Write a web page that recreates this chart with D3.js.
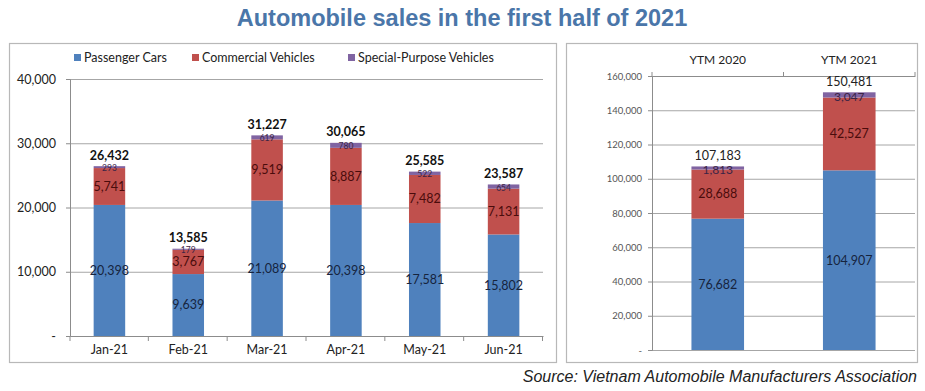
<!DOCTYPE html>
<html><head><meta charset="utf-8">
<script src="https://cdn.jsdelivr.net/npm/d3@7"></script>
<style>
html,body{margin:0;padding:0;background:#fff;}
svg{display:block;}
text{font-family:Lato,"Open Sans",sans-serif;}
</style></head>
<body>
<svg id="c" width="925" height="391"></svg>
<script>
// ---------- data ----------
const months = ["Jan-21","Feb-21","Mar-21","Apr-21","May-21","Jun-21"];
const passenger = [20398, 9639, 21089, 20398, 17581, 15802];
const commercial = [5741, 3767, 9519, 8887, 7482, 7131];
const special = [293, 179, 619, 780, 522, 654];
const totals = [26432, 13585, 31227, 30065, 25585, 23587];
const leftTicks = [0, 10000, 20000, 30000, 40000];

const ytmCats = ["YTM 2020","YTM 2021"];
const ytmPassenger = [76682, 104907];
const ytmCommercial = [28688, 42527];
const ytmSpecial = [1813, 3047];
const ytmTotals = [107183, 150481];
const rightTicks = [0,20000,40000,60000,80000,100000,120000,140000,160000];

const seriesNames = ["Passenger Cars","Commercial Vehicles","Special-Purpose Vehicles"];
const seriesKeys = ["pc","cv","sp"];
const colors = {pc:"#4f81bd", cv:"#c0504d", sp:"#8064a2"};
const labelColors = {pc:"#16243d", cv:"#4a0c0c", sp:"#3b2446"};

const fmt = d3.format(",");
const svg = d3.select("#c");

// title
svg.append("text").attr("x",462).attr("y",26).attr("text-anchor","middle")
  .style("font-family","'Liberation Sans Narrow','Arial Narrow','Liberation Sans',sans-serif")
  .style("font-weight","bold").style("font-size","23.5px").attr("fill","#4a76a9")
  .text("Automobile sales in the first half of 2021");

// panels
svg.append("rect").attr("x",9.5).attr("y",43.5).attr("width",547).attr("height",319)
  .attr("fill","#fff").attr("stroke","#b8b8b8").attr("stroke-width",1.2);
svg.append("rect").attr("x",566.5).attr("y",43.5).attr("width",351).attr("height",319)
  .attr("fill","#fff").attr("stroke","#b8b8b8").attr("stroke-width",1.2);

// ---------- left chart ----------
const L = {x0:70, x1:543, y0:336, y1:79};
const lData = months.map((m,i)=>({cat:m, pc:passenger[i], cv:commercial[i], sp:special[i], total:totals[i]}));
const lx = d3.scaleBand().domain(months).range([L.x0,L.x1]).paddingInner(0.6).paddingOuter(0.3);
const ly = d3.scaleLinear().domain([0,40000]).range([L.y0,L.y1]);
const lg = svg.append("g");

// gridlines
lg.selectAll("line.grid").data(leftTicks.filter(t=>t>0)).join("line")
  .attr("x1",L.x0).attr("x2",L.x1).attr("y1",d=>ly(d)+0.5).attr("y2",d=>ly(d)+0.5)
  .attr("stroke","#a6a6a6").attr("stroke-width",1);

const lStack = d3.stack().keys(seriesKeys)(lData);
lStack.forEach(s=>{
  lg.selectAll(null).data(s).join("rect")
    .attr("x",d=>lx(d.data.cat)).attr("width",lx.bandwidth())
    .attr("y",d=>ly(d[1])).attr("height",d=>ly(d[0])-ly(d[1]))
    .attr("fill",colors[s.key]);
});
// y axis
const lyAxis = d3.axisLeft(ly).tickValues(leftTicks).tickSize(4)
  .tickFormat(d=>d===0?"-":fmt(d));
const lya = lg.append("g").attr("transform",`translate(${L.x0},0)`).call(lyAxis);
lya.select(".domain").attr("stroke","#8c8c8c");
lya.selectAll(".tick line").attr("stroke","#8c8c8c");
lya.selectAll(".tick text").attr("x",-14).attr("fill","#222").style("font-size","12.5px").style("font-family","Lato,sans-serif");
// x axis
const lxAxis = d3.axisBottom(lx).tickSize(0).tickPadding(9);
const lxa = lg.append("g").attr("transform",`translate(0,${L.y0})`).call(lxAxis);
lxa.select(".domain").attr("stroke","#8c8c8c");
lxa.selectAll(".tick text").attr("fill","#222").style("font-size","12.5px").style("font-family","Lato,sans-serif");
// boundary tick marks
const step = lx.step();
lg.selectAll("line.bt").data(d3.range(months.length+1)).join("line")
  .attr("x1",i=>L.x0+i*step-0.5+ (i===0?0.5:0)).attr("x2",i=>L.x0+i*step-0.5+(i===0?0.5:0))
  .attr("y1",L.y0).attr("y2",L.y0+5).attr("stroke","#8c8c8c");

// segment labels
const cx = d=>lx(d.data.cat)+lx.bandwidth()/2;
lStack.forEach(s=>{
  lg.selectAll(null).data(s).join("text")
    .attr("x",cx).attr("y",d=>(ly(d[0])+ly(d[1]))/2 + (s.key==="sp"?1:0))
    .attr("dy","0.35em").attr("text-anchor","middle")
    .attr("fill",labelColors[s.key])
    .style("font-size",s.key==="sp"?"8.5px":"12.5px")
    .text(d=>fmt(d.data[s.key]));
});
lg.selectAll("text.tot").data(lData).join("text")
  .attr("x",d=>lx(d.cat)+lx.bandwidth()/2).attr("y",d=>ly(d.total)-11)
  .attr("dy","0.35em").attr("text-anchor","middle").attr("fill","#111")
  .style("font-weight","bold").style("font-size","12.5px")
  .text(d=>fmt(d.total));

// legend
const legX = [74,192,348];
const leg = lg.selectAll("g.leg").data(seriesKeys).join("g")
  .attr("transform",(d,i)=>`translate(${legX[i]},58)`);
leg.append("rect").attr("x",0).attr("y",-4).attr("width",7).attr("height",7).attr("fill",d=>colors[d]);
leg.append("text").attr("x",10).attr("y",0).attr("dy","0.35em").attr("fill","#222")
  .style("font-size","12.5px").text((d,i)=>seriesNames[i]);

// ---------- right chart ----------
const R = {x0:652, x1:915, y0:350, y1:76};
const rData = ytmCats.map((c,i)=>({cat:c, pc:ytmPassenger[i], cv:ytmCommercial[i], sp:ytmSpecial[i], total:ytmTotals[i]}));
const rx = d3.scaleBand().domain(ytmCats).range([R.x0,R.x1]).paddingInner(0.6).paddingOuter(0.3);
const ry = d3.scaleLinear().domain([0,160000]).range([R.y0,R.y1]);
const rg = svg.append("g");
rg.selectAll("line.grid").data(rightTicks).join("line")
  .attr("x1",R.x0).attr("x2",R.x1).attr("y1",d=>ry(d)+0.5).attr("y2",d=>ry(d)+0.5)
  .attr("stroke","#a6a6a6");
const rStack = d3.stack().keys(seriesKeys)(rData);
rStack.forEach(s=>{
  rg.selectAll(null).data(s).join("rect")
    .attr("x",d=>rx(d.data.cat)).attr("width",rx.bandwidth())
    .attr("y",d=>ry(d[1])).attr("height",d=>ry(d[0])-ry(d[1]))
    .attr("fill",colors[s.key]);
});
const ryAxis = d3.axisLeft(ry).tickValues(rightTicks).tickSize(4)
  .tickFormat(d=>d===0?"-":fmt(d));
const rya = rg.append("g").attr("transform",`translate(${R.x0},0)`).call(ryAxis);
rya.select(".domain").attr("stroke","#8c8c8c");
rya.selectAll(".tick line").attr("stroke","#8c8c8c");
rya.selectAll(".tick text").attr("x",-10).attr("fill","#555").style("font-size","9.5px").style("font-family","Lato,sans-serif");
const rxAxis = d3.axisTop(rx).tickSize(0).tickPadding(12);
const rxa = rg.append("g").attr("transform",`translate(0,${R.y1})`).call(rxAxis);
rxa.select(".domain").attr("stroke","#8c8c8c");
rxa.selectAll(".tick text").attr("fill","#222").style("font-size","12px").style("font-family","Lato,sans-serif");
const rstep = rx.step();
rg.selectAll("line.bt").data(d3.range(ytmCats.length+1)).join("line")
  .attr("x1",i=>R.x0+i*rstep).attr("x2",i=>R.x0+i*rstep)
  .attr("y1",R.y1).attr("y2",R.y1-4).attr("stroke","#8c8c8c");
const rcx = d=>rx(d.data.cat)+rx.bandwidth()/2;
rStack.forEach(s=>{
  rg.selectAll(null).data(s).join("text")
    .attr("x",rcx).attr("y",d=>(ry(d[0])+ry(d[1]))/2 + (s.key==="sp"?2:0))
    .attr("dy","0.35em").attr("text-anchor","middle")
    .attr("fill",labelColors[s.key])
    .style("font-size",s.key==="sp"?"12px":"12.5px")
    .text(d=>fmt(d.data[s.key]));
});
rg.selectAll("text.tot").data(rData).join("text")
  .attr("x",d=>rx(d.cat)+rx.bandwidth()/2).attr("y",d=>ry(d.total)-11)
  .attr("dy","0.35em").attr("text-anchor","middle").attr("fill","#222")
  .style("font-size","12.5px").text(d=>fmt(d.total));

// source
svg.append("text").attr("x",917).attr("y",382).attr("text-anchor","end")
  .style("font-family","'Liberation Sans',Arial,sans-serif").style("font-style","italic")
  .style("font-size","16px").attr("fill","#222")
  .text("Source: Vietnam Automobile Manufacturers Association");
</script>
</body></html>
